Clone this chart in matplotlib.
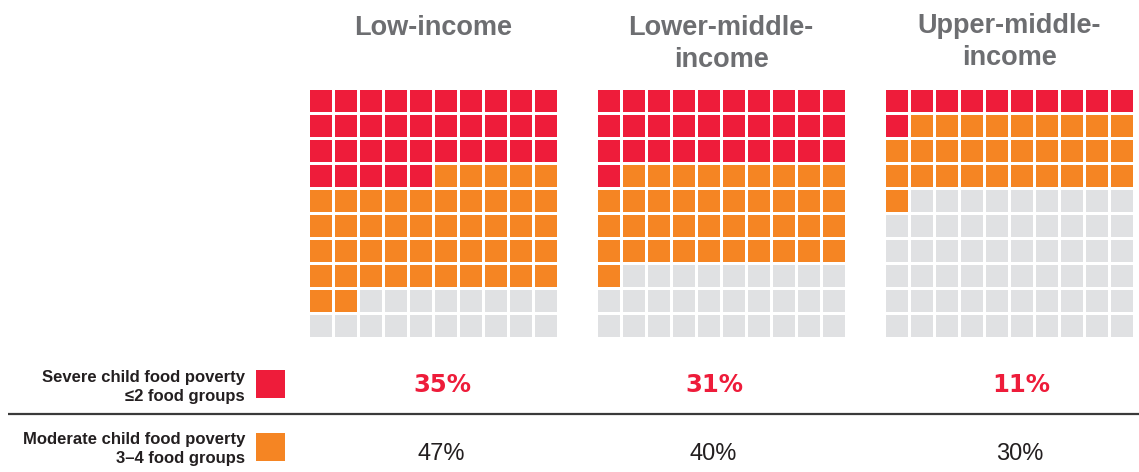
import matplotlib
matplotlib.use("Agg")
import matplotlib.pyplot as plt
from matplotlib.patches import Rectangle

# ---- data ----
groups = ["Low-income", "Lower-middle-\nincome", "Upper-middle-\nincome"]
severe = [35, 31, 11]
moderate = [47, 40, 30]
severe_labels = ["35%", "31%", "11%"]
moderate_labels = ["47%", "40%", "30%"]
legend_labels = ["Severe child food poverty\n\u22642 food groups",
                 "Moderate child food poverty\n3\u20134 food groups"]

RED = "#EE1C3A"
ORANGE = "#F58523"
GRAY = "#E0E1E3"
TITLE = "#6D6E71"

W, H = 1139, 472
fig = plt.figure(figsize=(W / 100, H / 100), dpi=100)
ax = fig.add_axes([0, 0, 1, 1])
ax.set_xlim(0, W)
ax.set_ylim(H, 0)
ax.axis("off")

FONT = ["Liberation Sans", "DejaVu Sans"]

grid_left = [309.5, 597.5, 886.0]
grid_top = 90.0
pitch = 25.0
cell = 22.0
pct_x = [442, 714, 1021]

for g, (name, s, m) in enumerate(zip(groups, severe, moderate)):
    for i in range(100):
        r, c = divmod(i, 10)
        if i < s:
            col = RED
        elif i < s + m:
            col = ORANGE
        else:
            col = GRAY
        ax.add_patch(Rectangle((grid_left[g] + c * pitch, grid_top + r * pitch),
                               cell, cell, facecolor=col, edgecolor="none"))
    cx = grid_left[g] + (9 * pitch + cell) / 2
    lines = name.split("\n")
    base = 35 if g < 2 else 33
    for k, ln in enumerate(lines):
        ax.text(cx, base + 32 * k, ln, ha="center", va="baseline", fontsize=19.5,
                fontweight="bold", color=TITLE, family=FONT)
    ax.text(pct_x[g], 392, severe_labels[g], ha="center", va="baseline",
            fontsize=17.5, fontweight="bold", color=RED,
            family=["DejaVu Sans"])
    ax.text(pct_x[g] - 1, 460, moderate_labels[g], ha="center", va="baseline",
            fontsize=17, color="#231F20", family=FONT)

# legend
for lab, col, sq_y, y1 in [(legend_labels[0], RED, 370, 382),
                           (legend_labels[1], ORANGE, 433, 444)]:
    ax.add_patch(Rectangle((256, sq_y), 29, 28, facecolor=col, edgecolor="none"))
    a, b = lab.split("\n")
    ax.text(245, y1, a, ha="right", va="baseline", fontsize=12,
            fontweight="bold", color="#231F20", family=FONT)
    ax.text(245, y1 + 19.5, b, ha="right", va="baseline", fontsize=12,
            fontweight="bold", color="#231F20", family=FONT)

ax.plot([8, W], [414, 414], color="#3A3A3A", lw=1.6, solid_capstyle="butt")

fig.savefig("out.png", dpi=100)
